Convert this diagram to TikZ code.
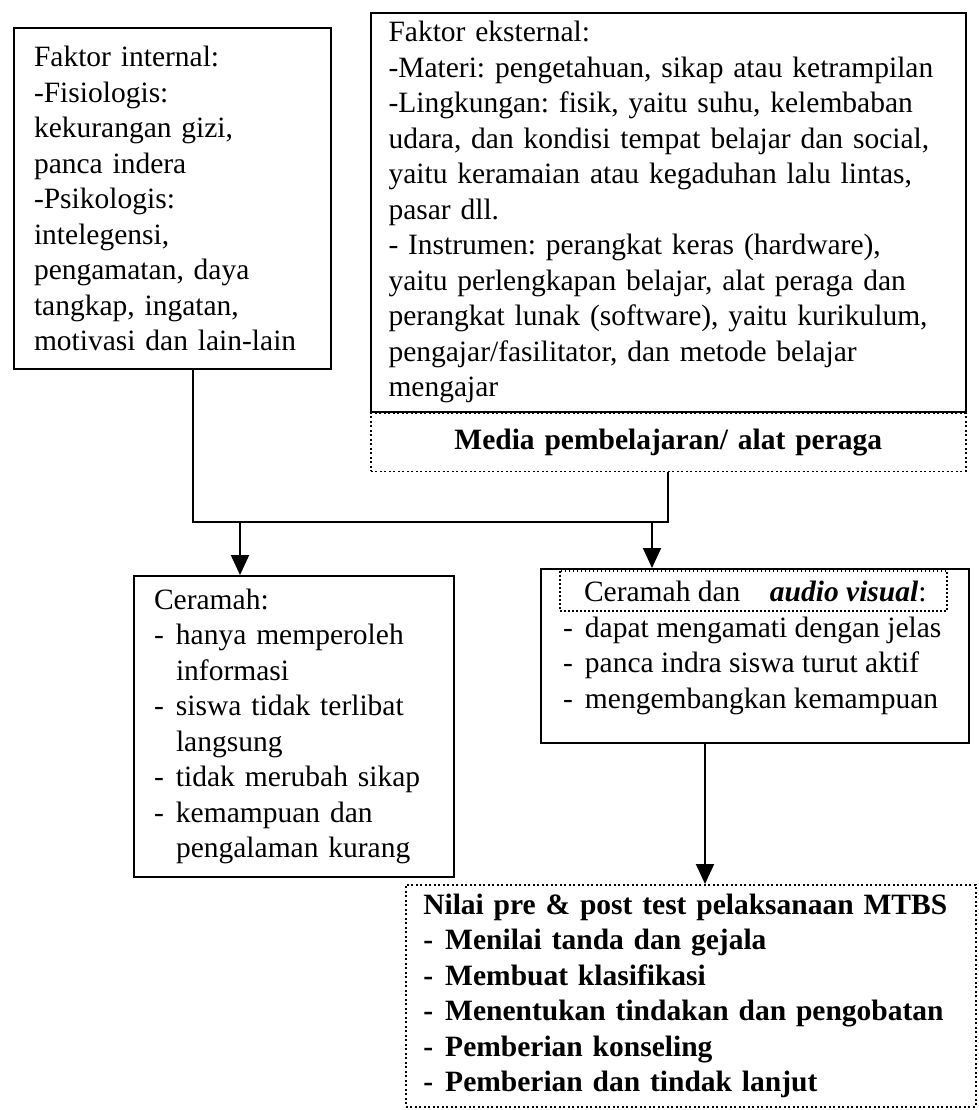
\documentclass[tikz,border=0pt]{standalone}
\usepackage{fontspec}
\setmainfont{Liberation Serif}
\usetikzlibrary{arrows.meta}

\newcommand{\dsh}{\makebox[8.8pt][l]{-}}
\newcommand{\dind}{\hspace*{8.8pt}}

\tikzset{
  box/.style={draw, line width=0.8pt, anchor=north west, align=left,
    inner xsep=8pt, font=\fontsize{11.8}{14.2}\selectfont\frenchspacing},
  dotbox/.style={box, densely dotted, line width=0.6pt},
  conn/.style={line width=0.8pt},
  arr/.style={conn, -{Triangle[length=8pt,width=7.2pt]}}
}

\begin{document}
\begin{tikzpicture}[x=0.4pt,y=-0.4pt]
  \useasboundingbox (0,0) rectangle (978,1110);
  % Faktor internal
  \node[box, text width=110.8pt, minimum height=136.4pt] (intern) at (13,27)
    {Faktor internal:\\ -Fisiologis:\\ kekurangan gizi,\\ panca indera\\
     -Psikologis:\\ intelegensi,\\ pengamatan, daya\\ tangkap, ingatan,\\
     motivasi dan lain-lain};
  % Faktor eksternal + media
  \node[box, inner xsep=7pt, text width=224pt, minimum height=159.2pt] (ekstern) at (370,12)
    {Faktor eksternal:\\
     -Materi: pengetahuan, sikap atau ketrampilan\\
     -Lingkungan: fisik, yaitu suhu, kelembaban\\
     udara, dan kondisi tempat belajar dan social,\\
     yaitu keramaian atau kegaduhan lalu lintas,\\
     pasar dll.\\
     - Instrumen: perangkat keras (hardware),\\
     yaitu perlengkapan belajar, alat peraga dan\\
     perangkat lunak (software), yaitu kurikulum,\\
     pengajar/fasilitator, dan metode belajar\\
     mengajar};
  \node[dotbox, inner xsep=7pt, text width=224pt, align=center, minimum height=23.2pt] (media)
    at (ekstern.south west) {\textbf{Media pembelajaran/ alat peraga}};
  % Joining line
  \coordinate (jl) at (193,522);
  \coordinate (jr) at (media.south |- jl);
  \draw[conn] (jl |- intern.south) -- (jl) -- (jr) -- (media.south);
  % Ceramah
  \node[box, text width=112pt, minimum height=120.4pt] (ceramah) at (133,575)
    {Ceramah:\\ \dsh hanya memperoleh\\ \dind informasi\\ \dsh siswa tidak terlibat\\
     \dind langsung\\ \dsh tidak merubah sikap\\ \dsh kemampuan dan\\ \dind pengalaman kurang};
  % Ceramah dan audio visual
  \node[box, inner xsep=8.8pt, inner ysep=5pt] (av) at (540,568)
    {\parbox[t][59.6pt][t]{153.6pt}{\raggedright
     \hspace*{8.4pt}Ceramah dan\hspace{1em}\textbf{\textit{audio visual}}:\\
     \dsh dapat mengamati dengan jelas\\ \dsh panca indra siswa turut aktif\\
     \dsh mengembangkan kemampuan}};
  \draw[densely dotted, line width=0.6pt] (560,571) rectangle (947,611);
  % Arrows down
  \coordinate (al) at (240,522);
  \coordinate (ar) at (652,522);
  \draw[arr] (al) -- (al |- ceramah.north);
  \draw[arr] (ar) -- (ar |- av.north);
  % Nilai pre & post test
  \node[dotbox, font=\fontsize{11.8}{14.2}\selectfont\frenchspacing\bfseries, inner xsep=7pt,
    text width=214pt, minimum height=88.8pt] (hasil) at (405,884)
    {Nilai pre \& post test pelaksanaan MTBS\\ \dsh Menilai tanda dan gejala\\
     \dsh Membuat klasifikasi\\ \dsh Menentukan tindakan dan pengobatan\\
     \dsh Pemberian konseling\\ \dsh Pemberian dan tindak lanjut};
  \coordinate (ad) at (705,0);
  \draw[arr] (ad |- av.south) -- (ad |- hasil.north);
\end{tikzpicture}
\end{document}
